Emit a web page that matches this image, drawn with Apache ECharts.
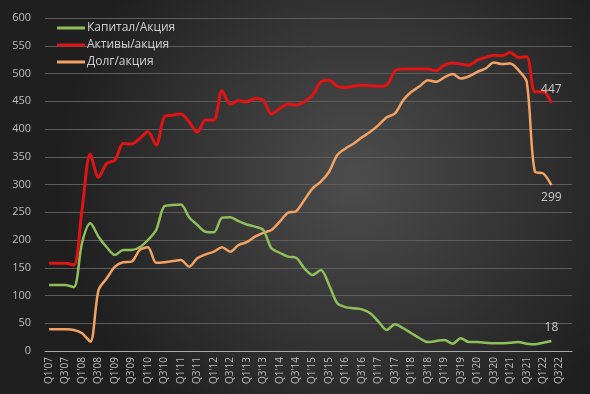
<!DOCTYPE html>
<html><head><meta charset="utf-8">
<script src="https://cdn.jsdelivr.net/npm/echarts@6/dist/echarts.min.js"></script>
<style>html,body{margin:0;padding:0;background:#2a2a2a}#c{width:590px;height:394px}</style>
</head><body><div id="c"></div>
<script>
const quarters = [];
for (let y = 7; y <= 22; y++) for (let q = 1; q <= 4; q++) quarters.push("Q" + q + "'" + (y < 10 ? "0" + y : y));

const capital = [119,119,119,115,195,230,206,187,173,182,182,187,200,218,261,263,264,241,227,215,214,240,241,234,228,224,218,185,177,170,168,149,137,146,119,86,79,77,75,68,53,38,48,41,32,23,16,18,20,13,23,16,16,15,14,14,15,16,13,12,15,18];
const assets = [158,158,158,155,255,355,313,338,344,374,373,383,395,371,422,425,427,413,394,416,416,469,445,451,449,455,452,427,437,445,443,449,461,485,488,477,475,477,479,478,477,479,505,508,508,508,508,505,515,519,517,515,524,529,533,532,538,529,530,467,467,447];
const debt = [39,39,39,38,32,17,110,131,152,160,161,182,187,159,160,162,164,152,167,174,179,187,179,191,196,206,213,218,233,249,252,272,293,305,323,353,365,374,385,395,407,421,428,452,467,477,488,485,493,499,491,495,503,509,520,517,518,506,485,323,320,299];

const names = ["Капитал/Акция", "Активы/акция", "Долг/акция"];
const colors = ["#8fbf5a", "#e01414", "#f2a262"];

function withEndLabel(arr, pos) {
  return arr.map((v, i) => i === arr.length - 1
    ? { value: v, label: { show: true, position: pos, color: "#c8c8c8", fontSize: 12, fontFamily: "Open Sans", distance: 7 } }
    : v);
}

function lineSeries(idx, arr, pos, width, z) {
  return {
    name: names[idx], type: 'line', data: withEndLabel(arr, pos), smooth: 0.3,
    showSymbol: true, symbol: 'circle', symbolSize: 0.01,
    lineStyle: { color: colors[idx], width: width }, itemStyle: { color: colors[idx] },
    emphasis: { disabled: true }, z: z
  };
}

const chart = echarts.init(document.getElementById('c'));
chart.setOption({
  backgroundColor: {
    type: 'radial', x: 0.6, y: 0.45, r: 0.75,
    colorStops: [{ offset: 0, color: '#4d4d4d' }, { offset: 1, color: '#1f1f1f' }]
  },
  animation: false,
  grid: { left: 45, right: 18, top: 18, bottom: 43 },
  legend: {
    left: 52, top: 17, orient: 'vertical', itemGap: 5,
    icon: 'rect', itemWidth: 28, itemHeight: 3,
    textStyle: { color: '#cfcfcf', fontSize: 12, fontFamily: 'Open Sans', padding: [0, 0, 0, -3] },
    data: [names[0], names[1], names[2]]
  },
  xAxis: {
    type: 'category', data: quarters, boundaryGap: true,
    axisLine: { lineStyle: { color: '#a8a8a8', width: 1 } },
    axisTick: { show: false },
    axisLabel: { interval: 1, rotate: 90, color: '#bdbdbd', fontSize: 10, fontFamily: 'Open Sans', margin: 6 }
  },
  yAxis: {
    type: 'value', min: 0, max: 600, interval: 50,
    axisLine: { show: false }, axisTick: { show: false },
    axisLabel: { color: '#bdbdbd', fontSize: 11, fontFamily: 'Open Sans', margin: 14 },
    splitLine: { lineStyle: { color: '#5c5c5c', width: 1 } }
  },
  series: [
    lineSeries(0, capital, 'top', 2.5, 3),
    lineSeries(1, assets, 'top', 3, 4),
    lineSeries(2, debt, 'bottom', 2.5, 2)
  ]
});
</script></body></html>
